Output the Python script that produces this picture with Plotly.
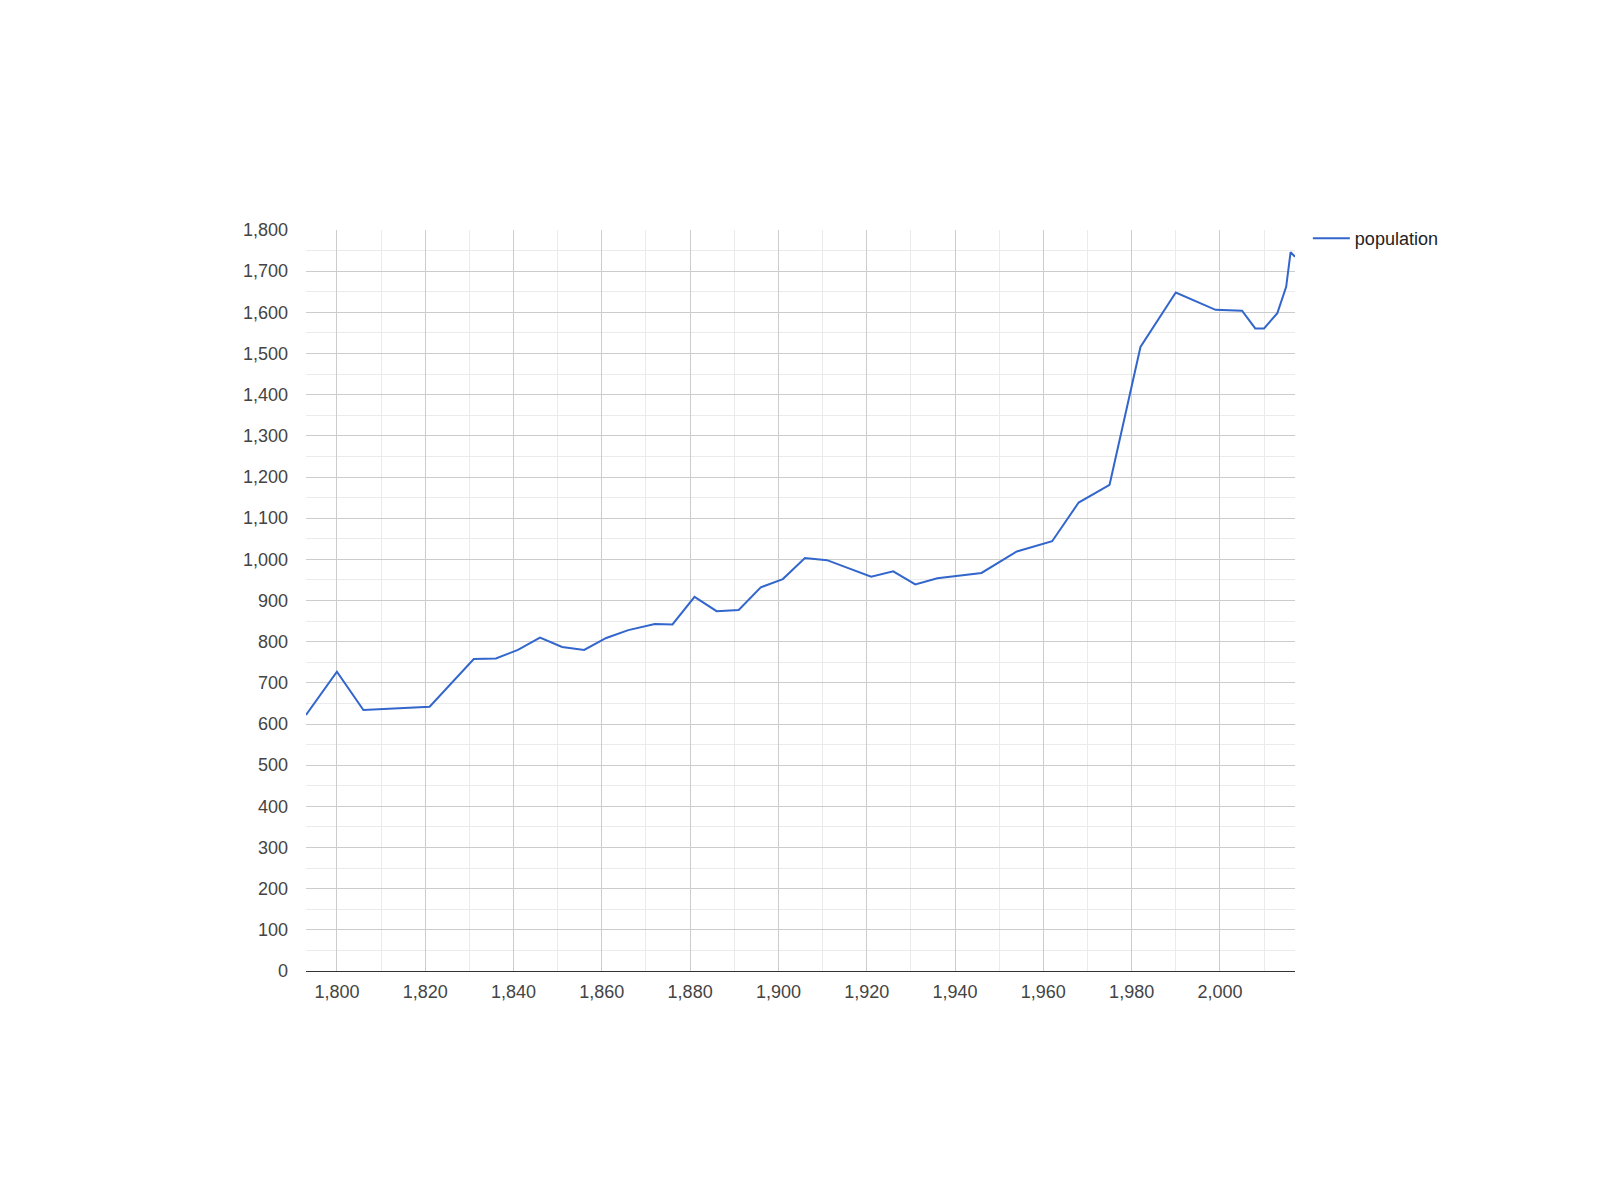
import plotly.graph_objects as go

years = [1793, 1800, 1806, 1821, 1831, 1836, 1841, 1846, 1851, 1856,
         1861, 1866, 1872, 1876, 1881, 1886, 1891, 1896, 1901, 1906,
         1911, 1921, 1926, 1931, 1936, 1946, 1954, 1962, 1968, 1975,
         1982, 1990, 1999, 2005, 2008, 2010, 2013, 2015, 2016, 2017]
population = [622, 727, 634, 642, 758, 759, 780, 810, 787, 780,
              809, 828, 843, 842, 909, 874, 877, 932, 952, 1003,
              998, 958, 971, 939, 954, 967, 1019, 1044, 1138, 1181,
              1516, 1648, 1606, 1604, 1561, 1561, 1598, 1662, 1746, 1735]

x_ticks = list(range(1800, 2001, 20))
y_ticks = list(range(0, 1801, 100))

FONT = "Liberation Sans, Arial, sans-serif"

fig = go.Figure()
fig.add_trace(go.Scatter(
    x=years, y=population, mode="lines", name="population",
    line=dict(color="#3366cc", width=2),
))

fig.update_layout(
    width=1600, height=1200,
    paper_bgcolor="white", plot_bgcolor="white",
    margin=dict(l=298, r=313, t=222, b=237),
    font=dict(family=FONT, size=18, color="#444444"),
    showlegend=True,
    legend=dict(x=1.013, y=1.0135, xanchor="left", yanchor="top",
                itemwidth=37,
                font=dict(family=FONT, size=18, color="#222222"),
                bgcolor="rgba(0,0,0,0)"),
    xaxis=dict(
        range=[min(years), max(years)], tickmode="array", tickvals=x_ticks,
        tickformat=",", showgrid=True, gridcolor="#cccccc", gridwidth=1,
        minor=dict(dtick=10, tick0=1790, showgrid=True, gridcolor="#ebebeb", gridwidth=1),
        zeroline=False, showline=True, linecolor="#333333", linewidth=1,
        ticks="", ticklabelstandoff=4,
        tickfont=dict(family=FONT, size=18, color="#444444"),
    ),
    yaxis=dict(
        range=[0, 1800], tickmode="array", tickvals=y_ticks,
        tickformat=",", showgrid=True, gridcolor="#cccccc", gridwidth=1,
        minor=dict(dtick=50, tick0=0, showgrid=True, gridcolor="#ebebeb", gridwidth=1),
        zeroline=False, showline=False, ticks="", ticklabelstandoff=17,
        tickfont=dict(family=FONT, size=18, color="#444444"),
    ),
)

fig.write_html("out.html")
